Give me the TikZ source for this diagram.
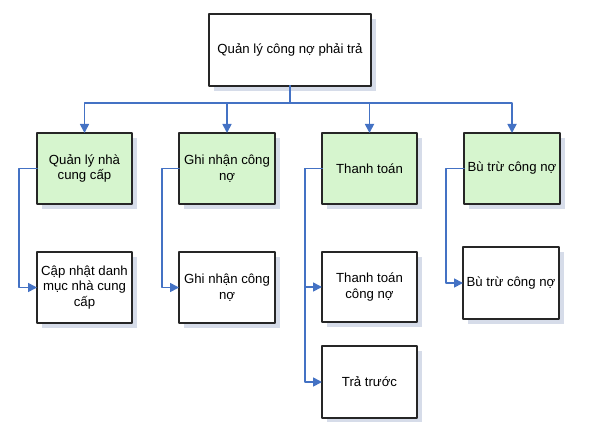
\documentclass[tikz,border=0pt]{standalone}
\usepackage{fontspec}
\setmainfont{Liberation Sans}
\usepackage{xcolor}
\usetikzlibrary{arrows.meta,shadows}
\definecolor{boxgreen}{RGB}{214,245,206}
\definecolor{linkblue}{RGB}{68,114,196}
\definecolor{shadowgrey}{RGB}{214,220,233}
\begin{document}
\begin{tikzpicture}[line cap=round,line join=round,x=1pt,y=-1pt,
        box/.style={draw=black!85,line width=1.1pt,inner sep=0pt,outer sep=0pt,
            minimum width=95pt,minimum height=71pt,align=center,
            font=\fontsize{13.2}{15.5}\selectfont,
            drop shadow={shadow xshift=5pt,shadow yshift=-5pt,fill=shadowgrey,opacity=1}},
        mainbox/.style={box,fill=boxgreen},
        subbox/.style={box,fill=white},
        link/.style={draw=linkblue,line width=1.7pt,-{Triangle[length=9pt,width=9pt]}}]
                \useasboundingbox (0,0) rectangle (599,422);
                \node [subbox,minimum width=162pt,minimum height=72pt] (qlcn) at (290,50) {Quản lý công nợ phải trả};
                \node [mainbox] (qlncc) at (84.5,168.5) {Quản lý nhà\\cung cấp};
                \node [mainbox,minimum width=96pt] (ghinhan) at (227,168.5) {Ghi nhận công\\nợ};
                \node [mainbox] (thanhtoan) at (369.5,168.5) {Thanh toán};
                \node [mainbox,minimum width=96pt] (butru) at (512,168.5) {Bù trừ công nợ};
                \node [subbox] (capnhat) at (84.5,287.5) {Cập nhật danh\\mục nhà cung\\cấp};
                \node [subbox,minimum width=96pt] (ghinhancn) at (227,287.5) {Ghi nhận công\\nợ};
                \node [subbox,minimum height=70pt] (thanhtoancn) at (369.5,287) {Thanh toán\\công nợ};
                \node [subbox,minimum height=72pt] (tratruoc) at (369.5,382) {Trả trước};
                \node [subbox,minimum width=96pt,minimum height=72pt] (butrucn) at (511,283) {Bù trừ công nợ};
                \draw [link] (qlcn.south) -- ++(0,17) -| (qlncc.north);
                \draw [link] (qlcn.south) -- ++(0,17) -| (ghinhan.north);
                \draw [link] (qlcn.south) -- ++(0,17) -| (thanhtoan.north);
                \draw [link] (qlcn.south) -- ++(0,17) -| (butru.north);
                \draw [link] (qlncc.west) -- ++(-18,0) |- (capnhat.west);
                \draw [link] (ghinhan.west) -- ++(-17,0) |- (ghinhancn.west);
                \draw [link] (thanhtoan.west) -- ++(-17,0) |- (thanhtoancn.west);
                \draw [link] (thanhtoan.west) -- ++(-17,0) |- (tratruoc.west);
                \draw [link] (butru.west) -- ++(-18,0) |- (butrucn.west);
\end{tikzpicture}
\end{document}
